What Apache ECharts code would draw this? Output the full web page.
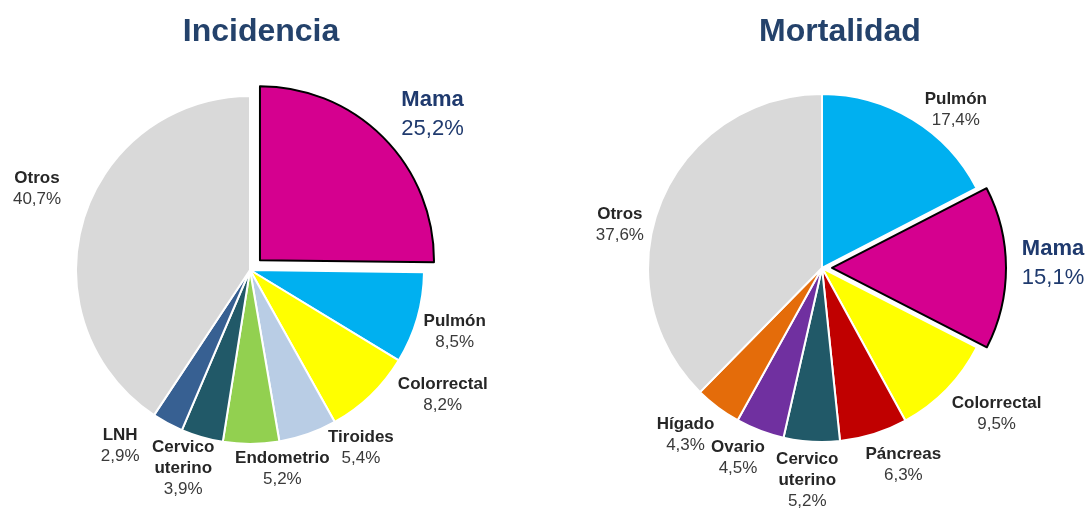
<!DOCTYPE html>
<html>
<head>
<meta charset="utf-8">
<script src="https://cdn.jsdelivr.net/npm/echarts@6/dist/echarts.min.js"></script>
<style>
  html, body { margin: 0; padding: 0; background: #fff; }
  #chart { width: 1090px; height: 508px; }
</style>
</head>
<body>
<div id="chart"></div>
<script>
// Incidencia
const incNames = ['Mama', 'Pulmón', 'Colorrectal', 'Tiroides', 'Endometrio', 'Cervico uterino', 'LNH', 'Otros']
const incValues = [25.2, 8.5, 8.2, 5.4, 5.2, 3.9, 2.9, 40.7]
// Mortalidad
const morNames = ['Pulmón', 'Mama', 'Colorrectal', 'Páncreas', 'Cervico uterino', 'Ovario', 'Hígado', 'Otros']
const morValues = [17.4, 15.1, 9.5, 6.3, 5.2, 4.5, 4.3, 37.6]

const colors = {
  'Mama': '#d5008f',
  'Pulmón': '#00b0f0',
  'Colorrectal': '#ffff00',
  'Tiroides': '#b9cde5',
  'Endometrio': '#92d050',
  'Cervico uterino': '#215968',
  'LNH': '#376092',
  'Páncreas': '#c00000',
  'Ovario': '#7030a0',
  'Hígado': '#e46c0a',
  'Otros': '#d9d9d9'
}

// small label nudges so labels sit where the original ones are
const incShift = [[21, 4], [0, 3], [45, -29], [40, -23], [31, -14], [-8, -6], [-29, -12], [-9, -20]]
const morShift = [[23, 24], [8, -4], [22, -3], [18, -7], [-2, 0], [-8, -9], [-9, -4], [-5, 37]]

const chart = echarts.init(document.getElementById('chart'))

function pct(v) {
  return v.toFixed(1).replace('.', ',') + '%'
}

function labelText(p) {
  if (p.name === 'Mama') return '{mn|Mama}\n{mp|' + pct(p.value) + '}'
  return p.name.split(' ').map(w => '{n|' + w + '}').join('\n') + '\n{p|' + pct(p.value) + '}'
}

function buildData(names, values) {
  return names.map((n, i) => {
    const item = { name: n, value: values[i], itemStyle: { color: colors[n] } }
    if (n === 'Mama') {
      item.selected = true
      item.itemStyle.borderColor = '#000'
      item.itemStyle.borderWidth = 2
    }
    return item
  })
}

const rich = {
  n: { fontFamily: 'Liberation Sans, Arial', fontWeight: 'bold', fontSize: 17, color: '#262626', align: 'center', lineHeight: 21 },
  p: { fontFamily: 'Liberation Sans, Arial', fontSize: 17, color: '#3a3a3a', align: 'center', lineHeight: 21 },
  mn: { fontFamily: 'Liberation Sans, Arial', fontWeight: 'bold', fontSize: 22, color: '#1f3a6e', align: 'center', lineHeight: 29 },
  mp: { fontFamily: 'Liberation Sans, Arial', fontSize: 22, color: '#1f3a6e', align: 'center', lineHeight: 29 }
}

function pieSeries(names, values, center, radius, offset, shift) {
  return {
    type: 'pie',
    center: center,
    radius: radius,
    startAngle: 90,
    clockwise: true,
    avoidLabelOverlap: false,
    selectedMode: 'single',
    selectedOffset: offset,
    animation: false,
    itemStyle: { borderColor: '#fff', borderWidth: 2 },
    select: { itemStyle: { borderColor: '#000', borderWidth: 2 } },
    label: {
      show: true,
      position: 'outside',
      formatter: labelText,
      rich: rich,
      distanceToLabelLine: 0
    },
    labelLine: { show: false, length: 39, length2: 0 },
    labelLayout: function (params) {
      const s = shift[params.dataIndex]
      return { align: 'center', verticalAlign: 'middle', dx: s[0], dy: s[1] }
    },
    data: buildData(names, values)
  }
}

const titleStyle = { fontFamily: 'Liberation Sans, Arial', fontSize: 32, fontWeight: 'bold', color: '#24426b' }

const option = {
  backgroundColor: '#fff',
  title: [
    { text: 'Incidencia', left: 256, top: 11, textAlign: 'center', textStyle: titleStyle },
    { text: 'Mortalidad', left: 835, top: 11, textAlign: 'center', textStyle: titleStyle }
  ],
  series: [
    pieSeries(incNames, incValues, [250, 270], 174, 14, incShift),
    pieSeries(morNames, morValues, [822, 268], 174, 10, morShift)
  ]
}

chart.setOption(option)
</script>
</body>
</html>
